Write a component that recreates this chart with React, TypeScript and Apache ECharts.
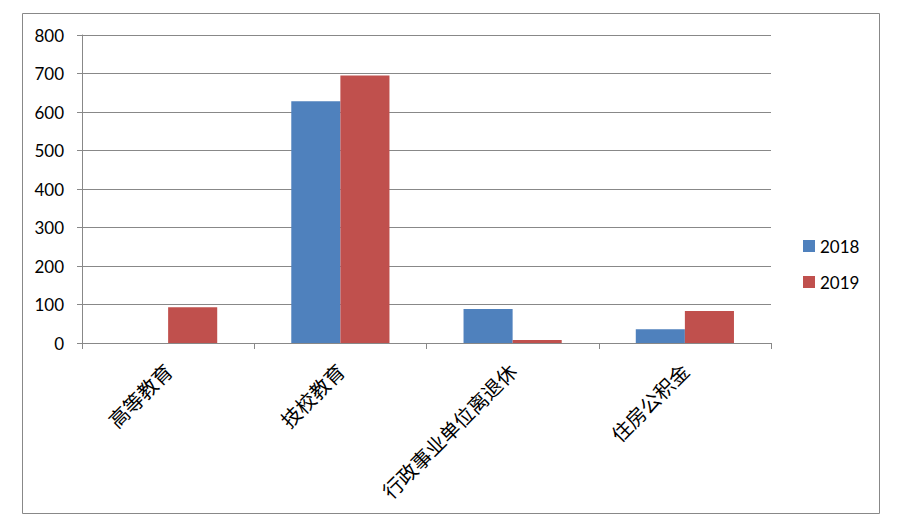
import React, { useEffect, useRef } from "react";
import * as echarts from "echarts";

const categories = ["高等教育", "技校教育", "行政事业单位离退休", "住房公积金"];
const values2018 = [0, 628, 88, 36];
const values2019 = [93, 695, 8, 83];
const seriesNames = ["2018", "2019"];

export default function App() {
  const ref = useRef<HTMLDivElement>(null);
  useEffect(() => {
    if (!ref.current) return;
    const chart = echarts.init(ref.current, null, { renderer: "svg" });
    const gray = "#888888";
    chart.setOption({
      animation: false,
      backgroundColor: "#ffffff",
      graphic: [
        {
          type: "rect",
          shape: { x: 22.5, y: 13.5, width: 857, height: 500 },
          style: { fill: "none", stroke: gray, lineWidth: 1 },
          silent: true,
        },
      ],
      grid: { left: 82, right: 135, top: 35, bottom: 186 },
      legend: {
        orient: "vertical",
        left: 803,
        top: 236,
        padding: 0,
        itemWidth: 12,
        itemHeight: 12,
        itemGap: 16,
        icon: "rect",
        textStyle: { fontFamily: "Lato", fontSize: 17, color: "#000", lineHeight: 20, padding: [0, 0, 0, 0] },
        data: seriesNames,
      },
      xAxis: {
        type: "category",
        data: categories,
        boundaryGap: true,
        axisLine: { lineStyle: { color: gray, width: 1 } },
        axisTick: { show: true, length: 6, lineStyle: { color: gray } },
        axisLabel: {
          rotate: 45,
          margin: 24,
          interval: 0,
          fontFamily: "Noto Sans CJK SC",
          fontSize: 20,
          color: "#000",
        },
      },
      yAxis: {
        type: "value",
        min: 0,
        max: 800,
        interval: 100,
        axisLine: { show: true, lineStyle: { color: gray, width: 1 } },
        axisTick: { show: true, length: 5, lineStyle: { color: gray } },
        splitLine: { show: true, lineStyle: { color: gray, width: 1 } },
        axisLabel: { margin: 18, fontFamily: "Lato", fontSize: 17, color: "#000" },
      },
      series: [
        {
          name: seriesNames[0],
          type: "bar",
          data: values2018,
          barGap: "0%",
          barCategoryGap: "43%",
          itemStyle: { color: "#4F81BD" },
        },
        {
          name: seriesNames[1],
          type: "bar",
          data: values2019,
          barGap: "0%",
          barCategoryGap: "43%",
          itemStyle: { color: "#C0504D" },
        },
      ],
    });
    return () => chart.dispose();
  }, []);
  return (
    <div
      ref={ref}
      style={{ position: "fixed", left: 0, top: 0, width: 906, height: 529 }}
    />
  );
}
